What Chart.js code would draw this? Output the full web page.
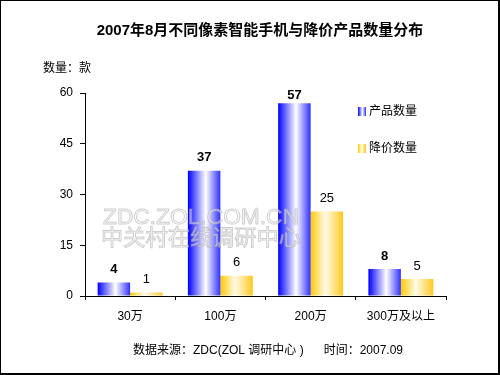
<!DOCTYPE html>
<html>
<head>
<meta charset="utf-8">
<script src="https://cdn.jsdelivr.net/npm/chart.js@4/dist/chart.umd.min.js"></script>
<style>
    html, body { margin: 0; padding: 0; background: #fff; }
    #wrap { position: relative; width: 500px; height: 375px; box-sizing: border-box;
            border: 1px solid #000; border-right-width: 2px; border-bottom-width: 2px; }
    canvas { display: block; }
</style>
</head>
<body>
<div id="wrap"><canvas id="c" width="497" height="372"></canvas></div>
<script>
var categories = ['30万', '100万', '200万', '300万及以上'];
var productCount = [4, 37, 57, 8];
var discountCount = [1, 6, 25, 5];
var seriesNames = ['产品数量', '降价数量'];
var yTicks = [0, 15, 30, 45, 60];

var titleText = '2007年8月不同像素智能手机与降价产品数量分布';
var unitText = '数量：款';
var footerText = '数据来源：ZDC(ZOL 调研中心 )      时间：2007.09';
var watermark = ['ZDC.ZOL.COM.CN', '中关村在线调研中心'];

var FONT = '"Liberation Sans", Arial, "Noto Sans CJK SC", sans-serif';
var stops = [
    [[0, '#0000ff'], [0.55, '#ffffff'], [1, '#3030ff']],
    [[0, '#ffc800'], [0.45, '#fffbe8'], [1, '#ffc820']]
];

function grad(ctx, x0, x1, s) {
    var g = ctx.createLinearGradient(x0, 0, x1, 0);
    s.forEach(function(p) { g.addColorStop(p[0], p[1]); });
    return g;
}

var decor = {
    id: 'decor',
    beforeDatasetsDraw: function(chart) {
        var ctx = chart.ctx;
        chart.data.datasets.forEach(function(ds, i) {
            chart.getDatasetMeta(i).data.forEach(function(el) {
                // options object is shared between bars, so give each its own copy
                var o = Object.assign({}, el.options);
                o.backgroundColor = grad(ctx, el.x - el.width / 2, el.x + el.width / 2, stops[i]);
                el.options = o;
            });
        });
    },
    afterDatasetsDraw: function(chart) {
        var ctx = chart.ctx;
        ctx.save();
        ctx.fillStyle = '#000';
        ctx.textAlign = 'center';
        ctx.textBaseline = 'middle';
        chart.data.datasets.forEach(function(ds, i) {
            ctx.font = (i === 0 ? 'bold ' : '') + '13px ' + FONT;
            chart.getDatasetMeta(i).data.forEach(function(el, j) {
                var y = Math.max(el.y - 13, chart.chartArea.top + 2);
                ctx.fillText(String(ds.data[j]), el.x, y);
            });
        });
        ctx.restore();
    },
    afterDraw: function(chart) {
        var ctx = chart.ctx;
        ctx.save();
        ctx.fillStyle = '#000';
        ctx.textBaseline = 'middle';
        ctx.textAlign = 'center';
        ctx.font = 'bold 15px ' + FONT;
        ctx.fillText(titleText, 259, 30);
        ctx.font = '12px ' + FONT;
        ctx.textAlign = 'left';
        ctx.fillText(unitText, 42, 68);
        ctx.textAlign = 'center';
        ctx.fillText(footerText, 267, 350);

        // legend
        chart.data.datasets.forEach(function(ds, i) {
            var y = 106 + i * 37;
            ctx.fillStyle = grad(ctx, 357, 365, stops[i]);
            ctx.fillRect(357, y, 8, 9);
            ctx.fillStyle = '#000';
            ctx.textAlign = 'left';
            ctx.font = '12px ' + FONT;
            ctx.fillText(ds.label, 368, y + 5);
        });

        // watermark
        ctx.textAlign = 'center';
        ctx.lineWidth = 1;
        ctx.font = '22px ' + FONT;
        var lines = [[watermark[0], 200, 217, 196], [watermark[1], 200, 238, 200]];
        lines.forEach(function(l) {
            var w = ctx.measureText(l[0]).width;
            ctx.save();
            ctx.translate(l[1], l[2]);
            ctx.scale(l[3] / w, 1);
            ctx.fillStyle = 'rgba(255,255,255,0.5)';
            ctx.fillText(l[0], 0, 0);
            ctx.strokeStyle = 'rgba(160,160,160,0.5)';
            ctx.strokeText(l[0], 0, 0);
            ctx.restore();
        });
        ctx.restore();
    }
};

new Chart(document.getElementById('c'), {
    type: 'bar',
    data: {
        labels: categories,
        datasets: [
            { label: seriesNames[0], data: productCount, backgroundColor: '#0000ff' },
            { label: seriesNames[1], data: discountCount, backgroundColor: '#ffc800' }
        ]
    },
    options: {
        responsive: false, animation: false,
        layout: { padding: { top: 92, right: 52, left: 0, bottom: 0 } },
        datasets: { bar: { categoryPercentage: 0.72, barPercentage: 1.0, borderWidth: 0 } },
        plugins: { legend: { display: false }, tooltip: { enabled: false }, title: { display: false } },
        scales: {
            x: {
                offset: true,
                afterFit: function(s) { s.height = 77; },
                grid: { offset: true, drawOnChartArea: false, tickLength: 4, color: '#000' },
                border: { color: '#000', width: 1 },
                ticks: { color: '#000', padding: 9, font: { size: 12, family: FONT } }
            },
            y: {
                min: 0, max: 60,
                afterFit: function(s) { s.width = 84; },
                afterBuildTicks: function(s) { s.ticks = yTicks.map(function(v) { return { value: v }; }); },
                grid: { drawOnChartArea: false, tickLength: 5, color: '#000' },
                border: { color: '#000', width: 1 },
                ticks: { color: '#000', padding: 7, font: { size: 12, family: FONT } }
            }
        }
    },
    plugins: [decor]
});
</script>
</body>
</html>
